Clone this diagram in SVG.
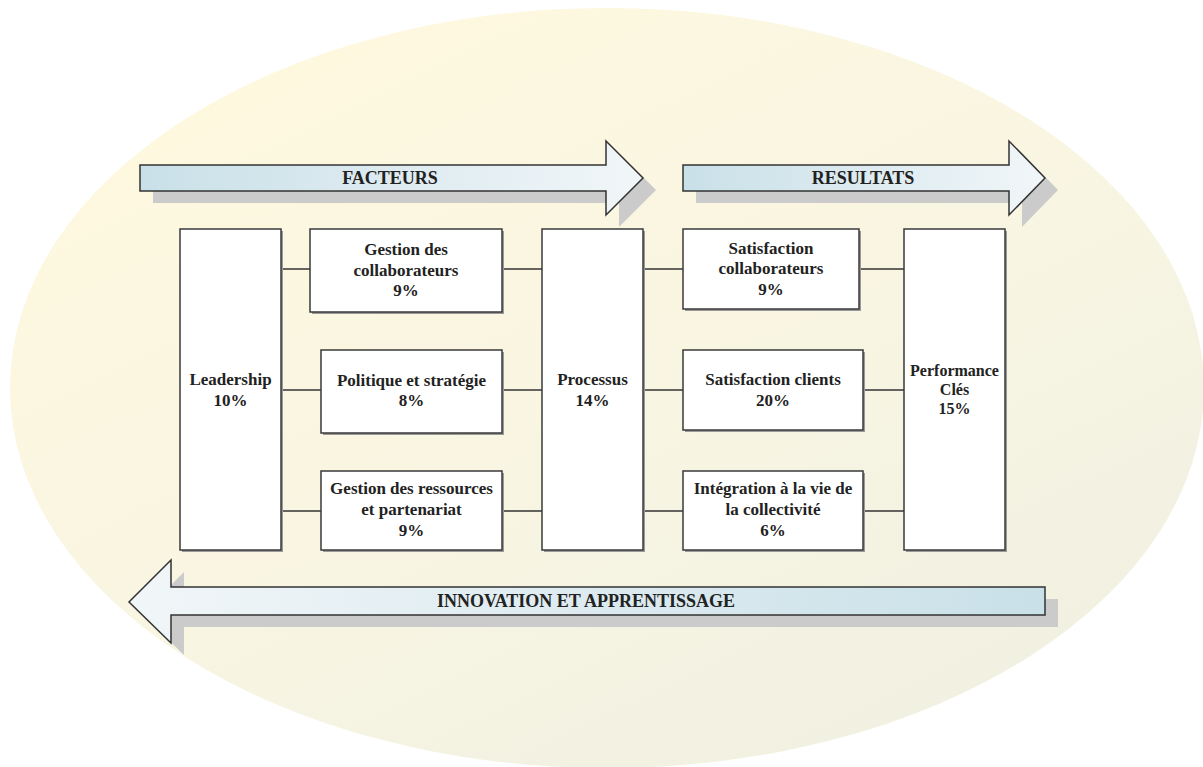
<svg xmlns="http://www.w3.org/2000/svg" width="1203" height="767" viewBox="0 0 1203 767">
<defs>
<linearGradient id="bg" x1="0.2" y1="0.1" x2="0.85" y2="0.95">
<stop offset="0" stop-color="#fef8df"/>
<stop offset="0.5" stop-color="#f8f5e2"/>
<stop offset="1" stop-color="#f0f0e2"/>
</linearGradient>
<linearGradient id="arrR" x1="0" y1="0" x2="1" y2="0">
<stop offset="0" stop-color="#c9e0e8"/>
<stop offset="1" stop-color="#f1f6f8"/>
</linearGradient>
<linearGradient id="arrL" x1="0" y1="0" x2="1" y2="0">
<stop offset="0" stop-color="#f1f6f8"/>
<stop offset="1" stop-color="#c9e0e8"/>
</linearGradient>
</defs>
<style>
.arrow{stroke:#333;stroke-width:1.5;stroke-linejoin:miter}
.shadow{fill:#cbcbcb}
.box{fill:#fff;stroke:#3a3a3a;stroke-width:1.5}
.bsh{fill:#9a9a9a}
.conn line{stroke:#333;stroke-width:1.5}
text{font-family:"Liberation Serif","Times New Roman",serif;font-weight:bold;fill:#222;text-anchor:middle}
.t{font-size:17px}
.ta{font-size:18px}
.tp{font-size:16px}
</style>
<rect width="1203" height="767" fill="#fff"/>
<ellipse cx="607" cy="388" rx="597" ry="380" fill="url(#bg)"/>

<g id="arrow-facteurs">
<path class="shadow" d="M153,177 H619 V153 L656,190 L619,227 V203 H153 Z"/>
<path class="arrow" fill="url(#arrR)" d="M140,165 H606 V141 L643,178 L606,215 V191 H140 Z"/>
<text class="ta" x="390" y="184">FACTEURS</text>
</g>
<g id="arrow-resultats">
<path class="shadow" d="M696,177 H1022 V153 L1058,190 L1022,227 V203 H696 Z"/>
<path class="arrow" fill="url(#arrR)" d="M683,165 H1009 V141 L1045,178 L1009,215 V191 H683 Z"/>
<text class="ta" x="863" y="184">RESULTATS</text>
</g>
<g id="arrow-innovation">
<path class="shadow" d="M1058,599 H184 V572 L142,614 L184,655 V627 H1058 Z"/>
<path class="arrow" fill="url(#arrL)" d="M1045,587 H171 V560 L129,602 L171,643 V615 H1045 Z"/>
<text class="ta" x="586" y="607">INNOVATION ET APPRENTISSAGE</text>
</g>

<g class="conn" id="connectors">
<line x1="281" y1="269" x2="310" y2="269"/>
<line x1="502" y1="269" x2="542" y2="269"/>
<line x1="643" y1="269" x2="683" y2="269"/>
<line x1="859" y1="269" x2="904" y2="269"/>
<line x1="281" y1="390" x2="321" y2="390"/>
<line x1="502" y1="390" x2="542" y2="390"/>
<line x1="643" y1="390" x2="683" y2="390"/>
<line x1="863" y1="390" x2="904" y2="390"/>
<line x1="281" y1="511" x2="321" y2="511"/>
<line x1="502" y1="511" x2="542" y2="511"/>
<line x1="643" y1="511" x2="683" y2="511"/>
<line x1="863" y1="511" x2="904" y2="511"/>
</g>

<g id="leadership">
<rect class="bsh" x="182" y="231" width="101" height="321"/>
<rect class="box" x="180" y="229" width="101" height="321"/>
<text class="t" x="230.5" y="385">Leadership</text>
<text class="t" x="230.5" y="406">10%</text>
</g>
<g id="gestion-collaborateurs">
<rect class="bsh" x="312" y="231" width="192" height="83"/>
<rect class="box" x="310" y="229" width="192" height="83"/>
<text class="t" x="406" y="255">Gestion des</text>
<text class="t" x="406" y="276">collaborateurs</text>
<text class="t" x="406" y="296">9%</text>
</g>
<g id="politique-strategie">
<rect class="bsh" x="323" y="352" width="181" height="83"/>
<rect class="box" x="321" y="350" width="181" height="83"/>
<text class="t" x="411.5" y="386">Politique et stratégie</text>
<text class="t" x="411.5" y="406">8%</text>
</g>
<g id="gestion-ressources">
<rect class="bsh" x="323" y="473" width="181" height="79"/>
<rect class="box" x="321" y="471" width="181" height="79"/>
<text class="t" x="411.5" y="494">Gestion des ressources</text>
<text class="t" x="411.5" y="515">et partenariat</text>
<text class="t" x="411.5" y="536">9%</text>
</g>
<g id="processus">
<rect class="bsh" x="544" y="231" width="101" height="321"/>
<rect class="box" x="542" y="229" width="101" height="321"/>
<text class="t" x="592.5" y="385">Processus</text>
<text class="t" x="592.5" y="406">14%</text>
</g>
<g id="satisfaction-collaborateurs">
<rect class="bsh" x="685" y="231" width="176" height="80"/>
<rect class="box" x="683" y="229" width="176" height="80"/>
<text class="t" x="771" y="254">Satisfaction</text>
<text class="t" x="771" y="274">collaborateurs</text>
<text class="t" x="771" y="295">9%</text>
</g>
<g id="satisfaction-clients">
<rect class="bsh" x="685" y="352" width="180" height="80"/>
<rect class="box" x="683" y="350" width="180" height="80"/>
<text class="t" x="773" y="385">Satisfaction clients</text>
<text class="t" x="773" y="406">20%</text>
</g>
<g id="integration">
<rect class="bsh" x="685" y="473" width="180" height="79"/>
<rect class="box" x="683" y="471" width="180" height="79"/>
<text class="t" x="773" y="494">Intégration à la vie de</text>
<text class="t" x="773" y="515">la collectivité</text>
<text class="t" x="773" y="536">6%</text>
</g>
<g id="performance">
<rect class="bsh" x="906" y="231" width="101" height="321"/>
<rect class="box" x="904" y="229" width="101" height="321"/>
<text class="tp" x="954.5" y="376">Performance</text>
<text class="tp" x="954.5" y="395">Clés</text>
<text class="tp" x="954.5" y="414">15%</text>
</g>
</svg>
